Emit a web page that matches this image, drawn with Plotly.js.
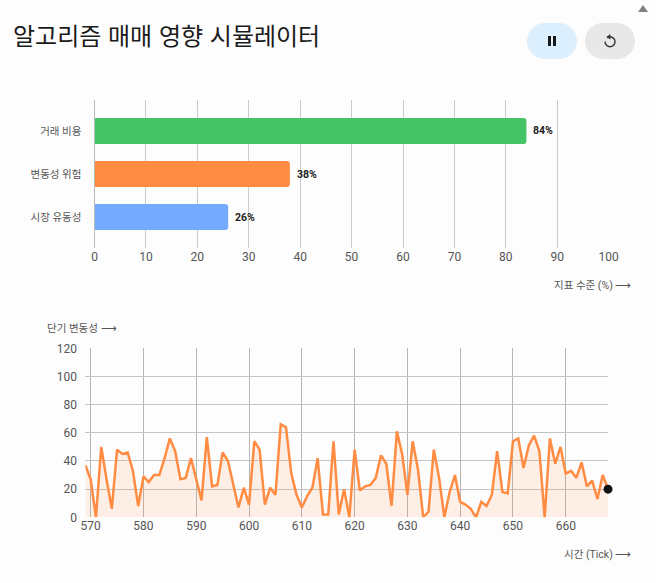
<!DOCTYPE html>
<html lang="ko">
<head>
<meta charset="utf-8">
<title>알고리즘 매매 영향 시뮬레이터</title>
<script src="https://cdn.plot.ly/plotly-3.0.1.min.js"></script>
<style>
  html, body { margin: 0; padding: 0; background: #fdfdfd; overflow: hidden; }
  body { width: 656px; height: 583px; position: relative; font-family: Roboto, "Noto Sans CJK KR", sans-serif; }
  #chart { position: absolute; left: 0; top: 0; width: 656px; height: 583px; }
  h1 { position: absolute; left: 13px; top: 18px; margin: 0; font-size: 24px; font-weight: 400; line-height: 34px; color: #1a1a1a; font-family: "Noto Sans CJK KR", sans-serif; }
  .btn { position: absolute; top: 23px; width: 50px; height: 36px; border: 0; border-radius: 18px; padding: 0; display: flex; align-items: center; justify-content: center; }
  #pauseBtn { left: 527px; background: #dcefff; }
  #resetBtn { left: 585px; background: #e8e8e8; }
  #scrollUp { position: absolute; left: 638px; top: 5px; width: 0; height: 0; border-left: 5px solid transparent; border-right: 5px solid transparent; border-bottom: 7px solid #808080; }
</style>
</head>
<body>
<div id="chart"></div>
<h1>알고리즘 매매 영향 시뮬레이터</h1>
<button class="btn" id="pauseBtn" aria-label="일시정지">
  <svg width="12" height="12" viewBox="0 0 12 12"><rect x="2" y="1" width="3" height="10" fill="#1a1a1a"/><rect x="7" y="1" width="3" height="10" fill="#1a1a1a"/></svg>
</button>
<button class="btn" id="resetBtn" aria-label="초기화">
  <svg width="14" height="16" viewBox="0 0 14 16"><path d="M4.2 4.6 A5 5 0 1 1 2 8.6" fill="none" stroke="#333" stroke-width="1.4"/><path d="M7.4 1 L3.4 4 L7.4 6.6 Z" fill="#333"/></svg>
</button>
<div id="scrollUp"></div>
<script>
const categories = ["시장 유동성", "변동성 위험", "거래 비용"];
const indicatorValues = [26, 38, 84];
const barColors = ["#74abff", "#ff8c42", "#44c467"];

const ticks = [];
for (let t = 569; t <= 668; t++) ticks.push(t);
const volatility = [
  37, 27, 0, 50, 27, 6, 48, 45, 46, 33,
  8, 29, 25, 30, 30, 42, 56, 47, 27, 28,
  42, 27, 12, 57, 22, 23, 46, 40, 24, 7,
  21, 9, 54, 48, 9, 21, 16, 66, 64, 31,
  16, 7, 15, 21, 42, 2, 2, 54, 2, 20,
  0, 48, 19, 22, 23, 28, 44, 38, 8, 61,
  45, 16, 54, 34, 0, 4, 48, 28, 0, 18,
  30, 11, 9, 6, 0, 11, 8, 16, 47, 18,
  17, 54, 56, 35, 51, 58, 47, 0, 56, 38,
  50, 31, 33, 28, 39, 22, 26, 13, 30, 20
];

const W = 656, H = 583;
const tickFont = { family: 'Roboto, "Noto Sans CJK KR", sans-serif', size: 12, color: "#555" };
const labelFont = { family: 'Roboto, "Noto Sans CJK KR", sans-serif', size: 10.5, color: "#555" };

const traces = [
  {
    type: "bar",
    orientation: "h",
    y: categories,
    x: indicatorValues,
    width: 0.6,
    marker: { color: barColors },
    xaxis: "x",
    yaxis: "y",
    hoverinfo: "x+y"
  },
  {
    type: "scatter",
    mode: "lines",
    x: ticks,
    y: volatility,
    line: { color: "#ff8c42", width: 2.5 },
    fill: "tozeroy",
    fillcolor: "rgba(255,140,66,0.12)",
    xaxis: "x2",
    yaxis: "y2",
    cliponaxis: false
  },
  {
    type: "scatter",
    mode: "markers",
    x: ticks.slice(-1),
    y: volatility.slice(-1),
    marker: { color: "#111", size: 9 },
    xaxis: "x2",
    yaxis: "y2",
    cliponaxis: false
  }
];

const valueLabels = categories.map((c, i) => ({
  xref: "x", yref: "y", x: indicatorValues[i], y: c,
  text: "<b>" + indicatorValues[i] + "%</b>",
  showarrow: false, xanchor: "left", xshift: 5,
  font: { family: tickFont.family, size: 10.5, color: "#222" }
}));

const layout = {
  width: W,
  height: H,
  margin: { l: 0, r: 0, t: 0, b: 0 },
  paper_bgcolor: "#fdfdfd",
  plot_bgcolor: "#fdfdfd",
  showlegend: false,
  barcornerradius: 3,
  xaxis: {
    domain: [94.5 / W, 608.7 / W],
    range: [0, 100], dtick: 10, tick0: 0,
    anchor: "y",
    gridcolor: "#cccccc", gridwidth: 1, zeroline: false,
    showline: false, ticks: "", ticklen: 0,
    tickfont: tickFont
  },
  yaxis: {
    domain: [1 - 248 / H, 1 - 100 / H],
    range: [-0.72, 2.72],
    anchor: "x",
    type: "category",
    showgrid: false, zeroline: false,
    showline: true, linecolor: "#bbbbbb",
    tickfont: labelFont,
    ticks: "outside", ticklen: 10, tickcolor: "rgba(0,0,0,0)"
  },
  xaxis2: {
    domain: [85.4 / W, 608 / W],
    range: [569, 668], dtick: 10, tick0: 570,
    anchor: "y2",
    gridcolor: "#b5b5b5", zeroline: false,
    ticks: "", tickfont: tickFont
  },
  yaxis2: {
    domain: [1 - 517.3 / H, 1 - 348.3 / H],
    range: [0, 120], dtick: 20,
    anchor: "x2",
    gridcolor: "#c4c4c4", zeroline: false,
    ticks: "outside", ticklen: 5, tickcolor: "rgba(0,0,0,0)",
    tickfont: tickFont
  },
  annotations: valueLabels.concat([
    {
      xref: "paper", yref: "paper", x: 633 / W, y: 1 - 285 / H,
      text: "지표 수준 (%) ⟶", showarrow: false, xanchor: "right", yanchor: "middle", font: labelFont
    },
    {
      xref: "paper", yref: "paper", x: 45 / W, y: 1 - 328 / H,
      text: "단기 변동성 ⟶", showarrow: false, xanchor: "left", yanchor: "middle", font: labelFont
    },
    {
      xref: "paper", yref: "paper", x: 633 / W, y: 1 - 554 / H,
      text: "시간 (Tick) ⟶", showarrow: false, xanchor: "right", yanchor: "middle", font: labelFont
    }
  ])
};

Plotly.newPlot("chart", traces, layout, { displayModeBar: false, responsive: false });
</script>
</body>
</html>
